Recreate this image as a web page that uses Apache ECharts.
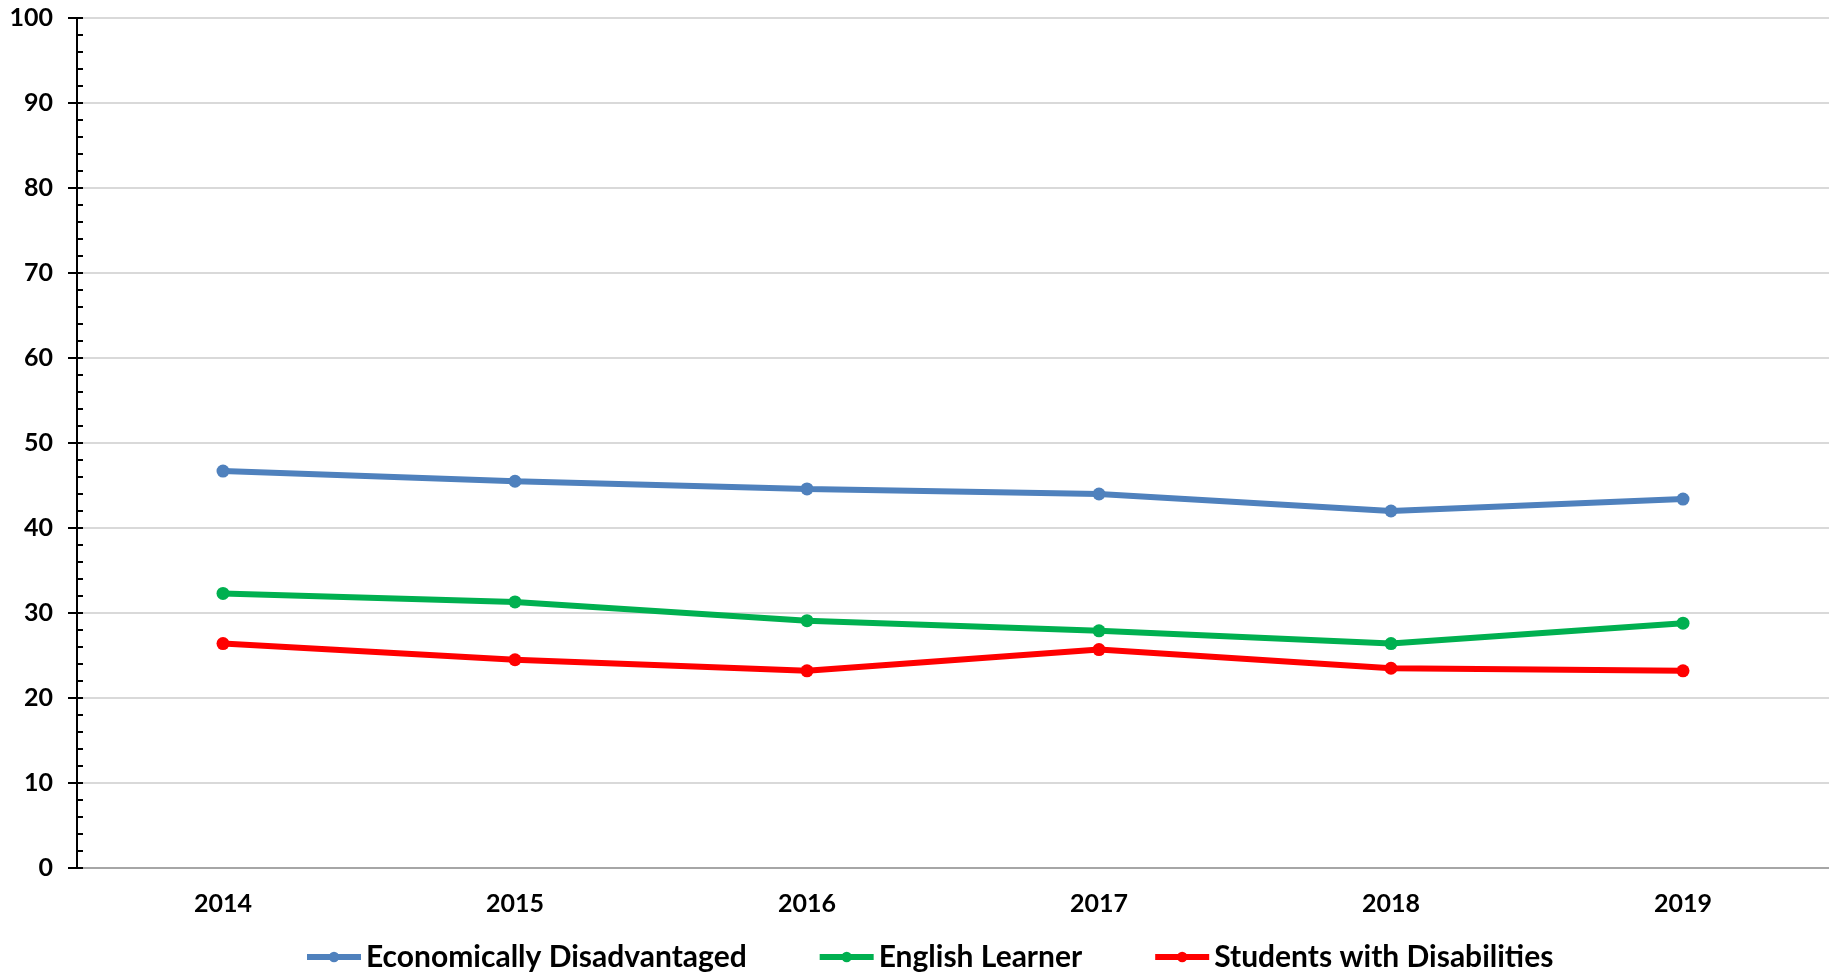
<!DOCTYPE html>
<html><head><meta charset="utf-8">
<script src="https://cdn.jsdelivr.net/npm/echarts@6/dist/echarts.min.js"></script>
<style>html,body{margin:0;padding:0;background:#fff}#c{width:1829px;height:977px}</style>
</head><body><div id="c"></div>
<script>
const years = ['2014','2015','2016','2017','2018','2019'];
const econDisadv = [46.7, 45.5, 44.6, 44.0, 42.0, 43.4];
const englishLearner = [32.3, 31.3, 29.1, 27.9, 26.4, 28.8];
const disabilities = [26.4, 24.5, 23.2, 25.7, 23.5, 23.2];
const seriesNames = ['Economically Disadvantaged','English Learner','Students with Disabilities'];
const colors = ['#4F81BD','#00B050','#FF0000'];
const FONT = 'Lato';
const chart = echarts.init(document.getElementById('c'));
function mk(name, data, color){
  return {name, type:'line', data, symbol:'circle', symbolSize:13,
    lineStyle:{width:6, color}, itemStyle:{color}, z:3};
}
chart.setOption({
  animation:false,
  textStyle:{fontFamily:FONT},
  grid:{left:77, right:0, top:18, bottom:109, containLabel:false},
  legend:{bottom:0, left:299, itemWidth:54, itemHeight:13, itemGap:70,
    lineStyle:{width:6},
    textStyle:{fontFamily:FONT, fontWeight:'bold', fontSize:30, color:'#000'},
    data:seriesNames},
  xAxis:[{type:'category', data:years, boundaryGap:true,
    axisLine:{lineStyle:{color:'#000', width:2}}, axisTick:{show:false},
    axisLabel:{fontFamily:FONT, fontWeight:'bold', fontSize:25, color:'#000', margin:23}},
   {type:'category', position:'top', data:years, axisLine:{lineStyle:{color:'#A6A6A6', width:2}},
    axisTick:{show:false}, axisLabel:{show:false}}],
  yAxis:[{type:'value', min:0, max:100, interval:10,
    axisLine:{show:true, lineStyle:{color:'#000', width:2}},
    axisTick:{show:true, length:9, lineStyle:{color:'#000', width:2}},
    minorTick:{show:false},
    splitLine:{show:true, lineStyle:{color:'#D9D9D9', width:2}},
    axisLabel:{fontFamily:FONT, fontWeight:'bold', fontSize:25, color:'#000', margin:24}},
   {type:'value', position:'left', min:0, max:100, interval:10,
    axisLine:{show:false}, axisLabel:{show:false}, splitLine:{show:false},
    axisTick:{show:true, inside:true, length:6, lineStyle:{color:'#000', width:2}},
    minorTick:{show:true, splitNumber:5, length:6, lineStyle:{color:'#000', width:2}}}],
  series:[mk(seriesNames[0], econDisadv, colors[0]), mk(seriesNames[1], englishLearner, colors[1]), mk(seriesNames[2], disabilities, colors[2])]
});
</script></body></html>
